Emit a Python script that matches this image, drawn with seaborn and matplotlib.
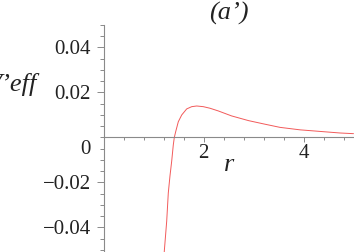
import matplotlib
matplotlib.use("Agg")
import matplotlib.pyplot as plt
import seaborn as sns
import pandas as pd
from matplotlib.ticker import MultipleLocator, FixedLocator, FixedFormatter

# data
r_vals = [1.20, 1.216, 1.264, 1.296, 1.330, 1.364, 1.396, 1.416, 1.444, 1.496, 1.564,
          1.664, 1.764, 1.864, 1.996, 2.13, 2.296, 2.56, 2.9, 3.23, 3.53,
          3.93, 4.33, 4.73, 5.0]
v_vals = [-0.057, -0.0505, -0.0372, -0.0246, -0.017, -0.0105, -0.0033, 0.0, 0.0026,
          0.0070, 0.0100, 0.0127, 0.0137, 0.0140, 0.0137, 0.0130, 0.0118,
          0.0096, 0.0075, 0.0059, 0.0045, 0.0034, 0.0027, 0.0020, 0.0017]
x_ticks = [2, 4]
x_tick_labels = ["2", "4"]
y_ticks = [-0.04, -0.02, 0.02, 0.04]
y_tick_labels = ["\u22120.04", "\u22120.02", "0.02", "0.04"]
title_text = "(a\u2019)"
ylabel_text = "V\u2019eff"
xlabel_text = "r"

sns.set_style("white")
FAM = ["Liberation Serif", "DejaVu Serif"]
plt.rcParams["font.family"] = FAM
plt.rcParams["xtick.bottom"] = True
plt.rcParams["ytick.left"] = True

W, H = 354, 252
fig = plt.figure(figsize=(W / 100, H / 100), dpi=100)
left_px, top_px = 103.5, 25
ax = fig.add_axes([left_px / W, 0, (W - left_px) / W, (H - top_px) / H])
ax.set_facecolor("none")

df = pd.DataFrame({"r": r_vals, "V": v_vals})
sns.lineplot(data=df, x="r", y="V", ax=ax, color="#f25a5a", linewidth=0.7,
             estimator=None, sort=False)

ax.set_xlim(0, 5.01)
ax.set_ylim(-0.0509, 0.05)

axis_col = "#8a8a8a"
for s in ["top", "right"]:
    ax.spines[s].set_visible(False)
ax.spines["left"].set_position(("data", 0))
ax.spines["bottom"].set_position(("data", 0))
for s in ["left", "bottom"]:
    ax.spines[s].set_color(axis_col)
    ax.spines[s].set_linewidth(0.8)

ax.xaxis.set_major_locator(FixedLocator(x_ticks))
ax.xaxis.set_major_formatter(FixedFormatter(x_tick_labels))
ax.xaxis.set_minor_locator(MultipleLocator(0.4))
ax.yaxis.set_major_locator(FixedLocator(y_ticks))
ax.yaxis.set_major_formatter(FixedFormatter(y_tick_labels))
ax.yaxis.set_minor_locator(MultipleLocator(0.005))

ax.tick_params(axis="both", which="both", bottom=True, left=True,
               colors=axis_col, labelcolor="#222222", width=0.7,
               direction="out")
ax.tick_params(axis="x", which="major", labelsize=15, length=3.5, pad=1)
ax.tick_params(axis="x", which="minor", length=2.5)
ax.tick_params(axis="y", which="major", labelsize=15, length=5, pad=4)
ax.tick_params(axis="y", which="minor", length=3)
for lab in ax.get_xticklabels() + ax.get_yticklabels():
    lab.set_fontfamily(FAM)

# zero label of y axis, shifted below the x axis as in the reference
ax.text(-0.25, -0.001, "0", transform=ax.transData, fontsize=15, color="#222222",
        ha="right", va="top", fontfamily=FAM)

ax.set_xlabel(xlabel_text, fontsize=19, style="italic", color="#222222",
              fontfamily=FAM)
ax.xaxis.set_label_coords(0.5, 0.43)
ax.set_ylabel("")
ax.set_title(title_text, fontsize=19, style="italic", color="#222222", pad=1,
             fontfamily=FAM)

fig.text(37 / W, 1 - 85 / H, ylabel_text, fontsize=19, style="italic",
         color="#222222", ha="right", va="center", fontfamily=FAM)

fig.savefig("out.png", dpi=100)
